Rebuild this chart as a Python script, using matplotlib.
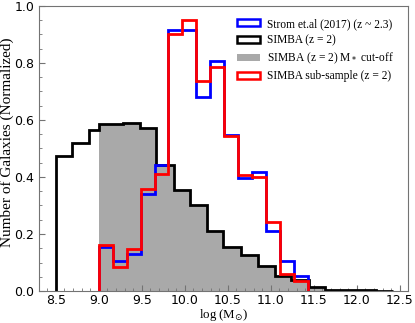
import matplotlib

matplotlib.use("Agg")

import matplotlib.pyplot as plt
from matplotlib.patches import Patch
from matplotlib.ticker import MultipleLocator

# SIMBA (z = 2), full sample
simba_edges = [8.50, 8.69, 8.89, 9.00, 9.28, 9.48, 9.67, 9.87, 10.06, 10.26, 10.45,
               10.65, 10.85, 11.05, 11.24, 11.44, 11.63, 11.83, 12.03, 12.22, 12.42]
simba_vals = [0.475, 0.52, 0.565, 0.585, 0.59, 0.57, 0.443, 0.354, 0.302, 0.211,
              0.156, 0.127, 0.087, 0.052, 0.037, 0.013, 0.004, 0.002, 0.002, 0.001]

# SIMBA with M* cut-off (log M > 9.0)
cut_edges = simba_edges[3:]
cut_vals = simba_vals[3:]

# Strom et al. (2017) and SIMBA sub-sample share the same bins
sub_edges = [9.0, 9.162, 9.324, 9.486, 9.648, 9.81, 9.972, 10.134, 10.296,
             10.458, 10.62, 10.782, 10.944, 11.106, 11.268, 11.43]
strom_vals = [0.156, 0.104, 0.13, 0.34, 0.442, 0.915, 0.915, 0.68, 0.808,
              0.548, 0.395, 0.416, 0.211, 0.105, 0.053]
subsample_vals = [0.162, 0.084, 0.148, 0.358, 0.409, 0.901, 0.951, 0.735, 0.785,
                  0.543, 0.407, 0.399, 0.242, 0.058, 0.036]

GREY = "#a9a9a9"

fig = plt.figure(figsize=(4.15, 3.23), dpi=100)
ax = fig.add_axes([0.093, 0.099, 0.891, 0.883])

lw = 2.0
ax.stairs(cut_vals, cut_edges, fill=True, color=GREY, linewidth=0, zorder=1)
ax.stairs(simba_vals, simba_edges, color="black", linewidth=lw, zorder=2)
ax.stairs(strom_vals, sub_edges, color="blue", linewidth=lw, zorder=3)
ax.stairs(subsample_vals, sub_edges, color="red", linewidth=lw, zorder=4)

ax.set_xlim(8.3, 12.6)
ax.set_ylim(0, 1.0)
ax.xaxis.set_major_locator(MultipleLocator(0.5))
ax.xaxis.set_minor_locator(MultipleLocator(0.1))
ax.yaxis.set_major_locator(MultipleLocator(0.2))
ax.yaxis.set_minor_locator(MultipleLocator(0.05))
ax.tick_params(which="both", direction="in", color="0.45", labelsize=9, pad=3)
ax.tick_params(axis="x", pad=2)
ax.tick_params(which="major", length=4)
ax.tick_params(which="minor", length=2)
for spine in ax.spines.values():
    spine.set_color("0.45")

serif = ["Liberation Serif", "DejaVu Serif"]
ax.set_xlabel(r"log (M$_{\odot}$)", family=serif, fontsize=9.3)
ax.xaxis.set_label_coords(0.5, -0.057)
ax.xaxis.label.set_va("top")
ax.set_ylabel("Number of Galaxies (Normalized)", family=serif, fontsize=11)
ax.yaxis.set_label_coords(-0.066, 0.52)

handles = [
    Patch(facecolor="white", edgecolor="blue", linewidth=1.8),
    Patch(facecolor="white", edgecolor="black", linewidth=1.8),
    Patch(facecolor=GREY, edgecolor="none"),
    Patch(facecolor="white", edgecolor="red", linewidth=1.8),
]
labels = ["Strom et.al (2017) (z ~ 2.3)", "SIMBA (z = 2)",
          "SIMBA (z = 2) M$_*$ cut-off", "SIMBA sub-sample (z = 2)"]
ax.legend(handles, labels, loc="upper right", frameon=False,
          prop={"family": serif, "size": 8.3}, handlelength=2.0,
          handleheight=0.6, handletextpad=0.6, labelspacing=0.38,
          borderaxespad=0.4, bbox_to_anchor=(0.985, 0.99))

fig.savefig("out.png", dpi=100)
